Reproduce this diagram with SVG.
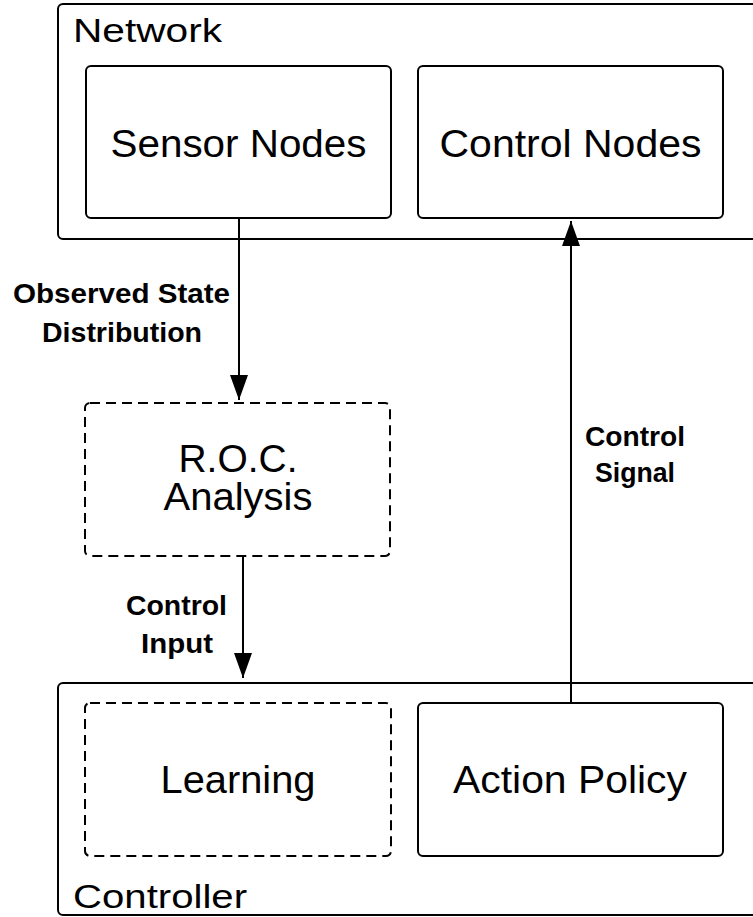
<svg xmlns="http://www.w3.org/2000/svg" width="753" height="917" viewBox="0 0 753 917">
  <style>
    .box { fill: #ffffff; stroke: #000000; stroke-width: 2; }
    .dash { fill: #ffffff; stroke: #000000; stroke-width: 2; stroke-dasharray: 10 6; }
    .big { font-family: "Liberation Sans", Arial, sans-serif; font-size: 38px; fill: #000000; }
    .cont { font-family: "Liberation Sans", Arial, sans-serif; font-size: 34px; fill: #000000; }
    .lbl { font-family: "Liberation Sans", Arial, sans-serif; font-size: 27px; font-weight: bold; fill: #000000; }
    .edge { fill: none; stroke: #000000; stroke-width: 2; }
  </style>
  <defs>
    <marker id="arrow" markerUnits="userSpaceOnUse" markerWidth="26" markerHeight="20" refX="25" refY="10" orient="auto" viewBox="0 0 26 20">
      <path d="M0,1 L25,10 L0,19 Z" fill="#000000"/>
    </marker>
  </defs>
  <rect width="753" height="917" fill="#ffffff"/>

  <g id="network">
    <rect class="box" x="58" y="4" width="720" height="235" rx="5"/>
    <text class="cont" x="73" y="42" textLength="149" lengthAdjust="spacingAndGlyphs">Network</text>
  </g>
  <g id="sensor-nodes">
    <rect class="box" x="86" y="66" width="305" height="152" rx="5"/>
    <text class="big" x="238.5" y="157" text-anchor="middle" textLength="256" lengthAdjust="spacingAndGlyphs">Sensor Nodes</text>
  </g>
  <g id="control-nodes">
    <rect class="box" x="418" y="66" width="305" height="152" rx="5"/>
    <text class="big" x="570.5" y="157" text-anchor="middle" textLength="262" lengthAdjust="spacingAndGlyphs">Control Nodes</text>
  </g>
  <g id="roc-analysis">
    <rect class="dash" x="85" y="403" width="305" height="153" rx="5"/>
    <text class="big" x="238" y="472" text-anchor="middle" textLength="119" lengthAdjust="spacingAndGlyphs">R.O.C.</text>
    <text class="big" x="238" y="510" text-anchor="middle" textLength="149" lengthAdjust="spacingAndGlyphs">Analysis</text>
  </g>
  <g id="controller">
    <rect class="box" x="58" y="683" width="720" height="232" rx="5"/>
    <text class="cont" x="73" y="908" textLength="174" lengthAdjust="spacingAndGlyphs">Controller</text>
  </g>
  <g id="learning">
    <rect class="dash" x="85" y="703" width="306" height="153" rx="5"/>
    <text class="big" x="238" y="793" text-anchor="middle" textLength="155" lengthAdjust="spacingAndGlyphs">Learning</text>
  </g>
  <g id="action-policy">
    <rect class="box" x="418" y="703" width="305" height="153" rx="5"/>
    <text class="big" x="570" y="793" text-anchor="middle" textLength="234" lengthAdjust="spacingAndGlyphs">Action Policy</text>
  </g>

  <g id="connectors">
    <line class="edge" x1="239" y1="218" x2="239" y2="400" marker-end="url(#arrow)"/>
    <line class="edge" x1="243" y1="556" x2="243" y2="678" marker-end="url(#arrow)"/>
    <line class="edge" x1="571" y1="703" x2="571" y2="221" marker-end="url(#arrow)"/>
    <text class="lbl" x="121.5" y="303" text-anchor="middle" textLength="217" lengthAdjust="spacingAndGlyphs">Observed State</text>
    <text class="lbl" x="122" y="342" text-anchor="middle" textLength="160" lengthAdjust="spacingAndGlyphs">Distribution</text>
    <text class="lbl" x="176.5" y="615" text-anchor="middle" textLength="101" lengthAdjust="spacingAndGlyphs">Control</text>
    <text class="lbl" x="177" y="653" text-anchor="middle" textLength="72" lengthAdjust="spacingAndGlyphs">Input</text>
    <text class="lbl" x="635" y="446" text-anchor="middle" textLength="100" lengthAdjust="spacingAndGlyphs">Control</text>
    <text class="lbl" x="635" y="482" text-anchor="middle" textLength="80" lengthAdjust="spacingAndGlyphs">Signal</text>
  </g>
</svg>
